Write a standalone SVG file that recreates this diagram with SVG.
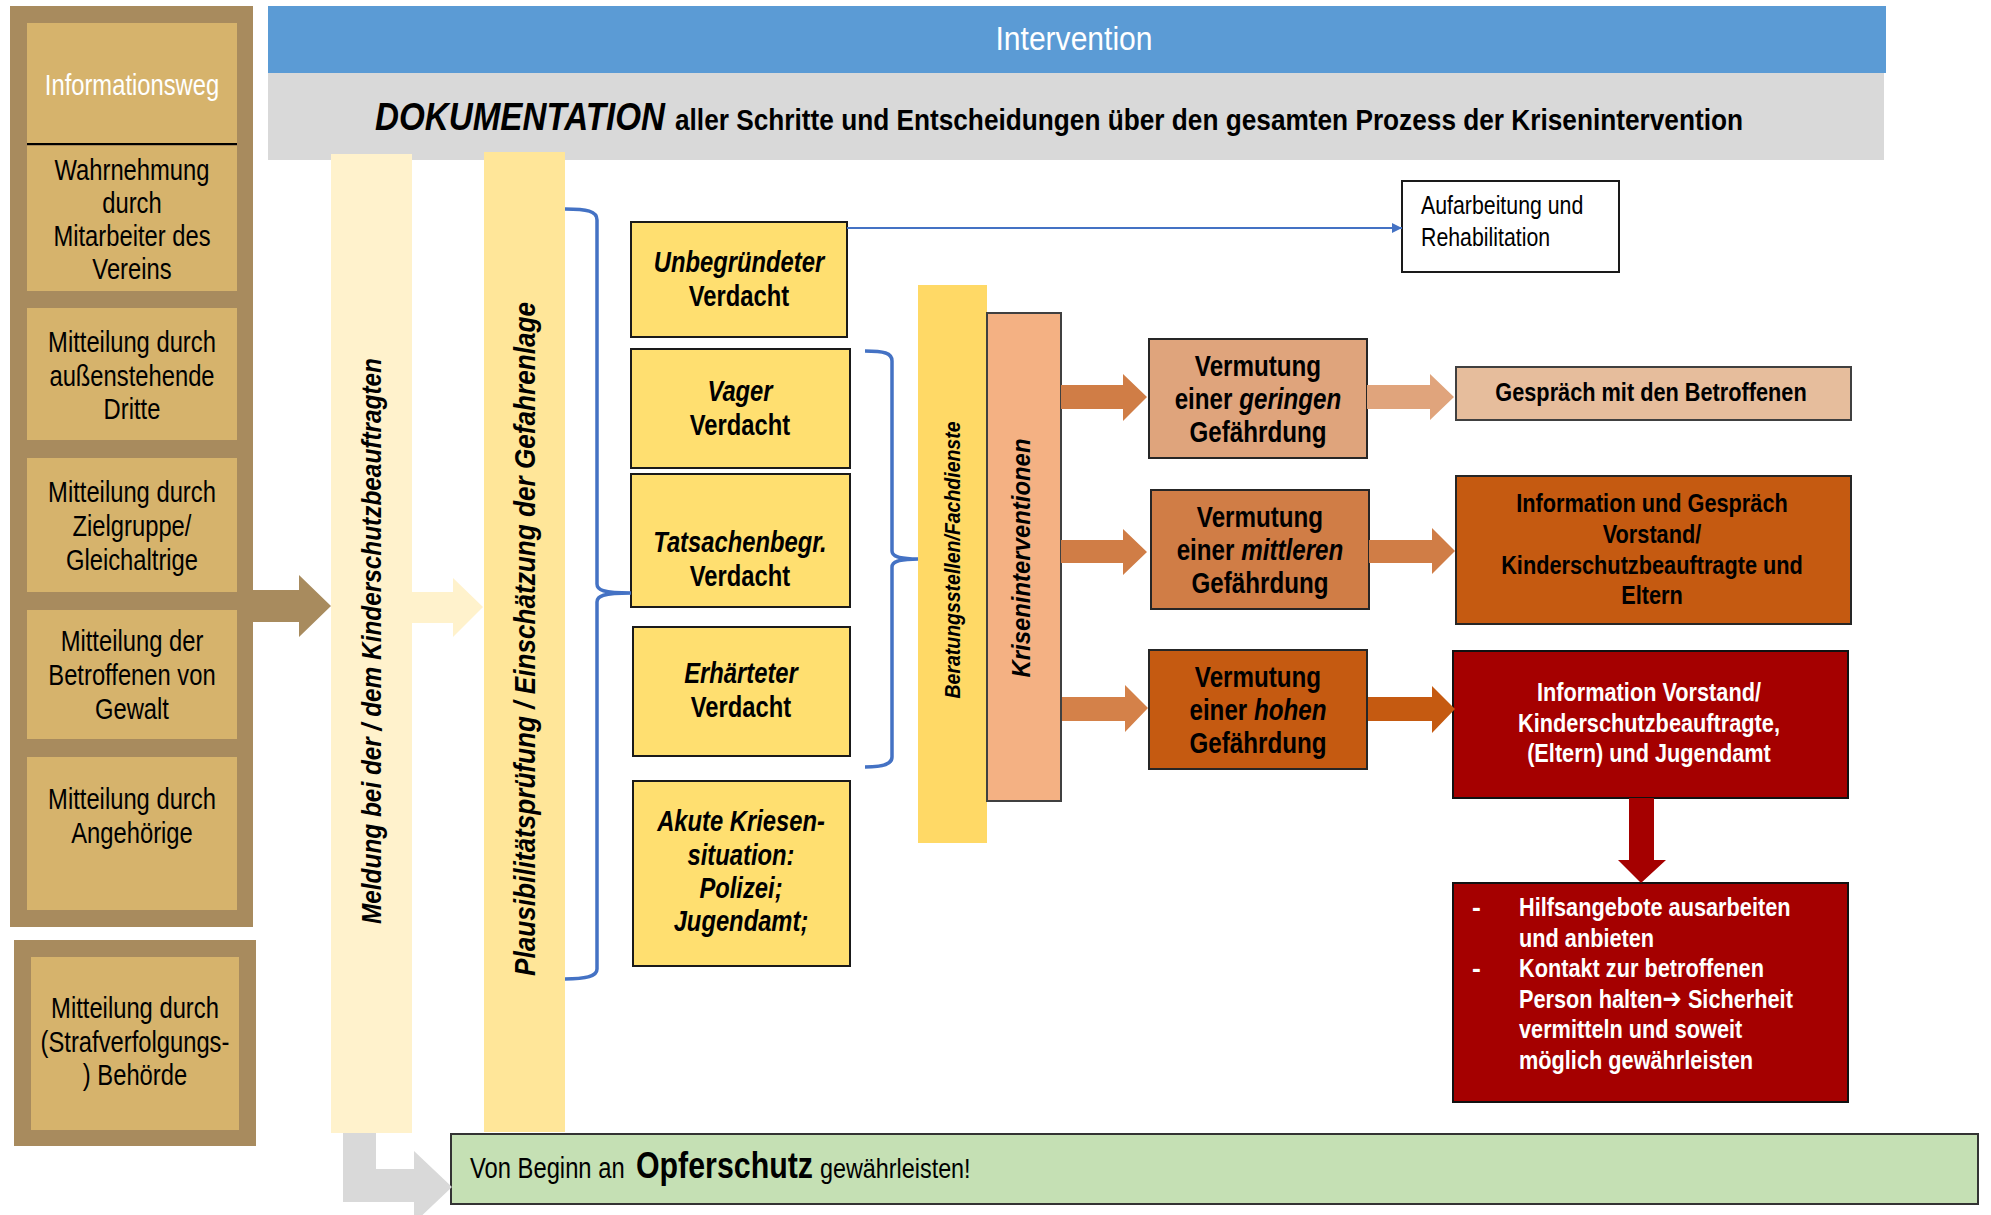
<svg xmlns="http://www.w3.org/2000/svg" width="1991" height="1215" viewBox="0 0 1991 1215">
<defs>
<style>
text{font-family:"Liberation Sans",Arial,sans-serif;fill:#000}
.c{text-anchor:middle}
.r29{font-size:29px}
.b{font-weight:bold}
.i{font-style:italic}
.w{fill:#fff}
.cell{fill:#D6B36C}
.ybox{fill:#FFDF70;stroke:#1a1a1a;stroke-width:2}
.brace{fill:none;stroke:#4472C4;stroke-width:3.5}
</style>
<marker id="tri" markerWidth="10" markerHeight="16" refX="16" refY="8" orient="auto" markerUnits="userSpaceOnUse" viewBox="0 0 16 16">
<path d="M0,0 L16,8 L0,16 Z" fill="#4472C4"/>
</marker>
</defs>
<rect width="1991" height="1215" fill="#fff"/>

<g id="header">
<rect x="268" y="6" width="1618" height="67" fill="#5B9BD5"/>
<rect x="268" y="73" width="1616" height="87" fill="#D9D9D9"/>
<text x="1074" y="50" class="c w" font-size="34" textLength="157" lengthAdjust="spacingAndGlyphs">Intervention</text>
<text x="375" y="130" class="b i" font-size="39" textLength="290" lengthAdjust="spacingAndGlyphs">DOKUMENTATION</text>
<text x="675" y="130" class="b" font-size="29" textLength="1068" lengthAdjust="spacingAndGlyphs">aller Schritte und Entscheidungen über den gesamten Prozess der Krisenintervention</text>
</g>

<g id="informationsweg">
<rect x="10" y="6" width="243" height="921" fill="#A88B5E"/>
<rect x="27" y="23" width="210" height="121" class="cell"/>
<line x1="27" y1="144" x2="237" y2="144" stroke="#000" stroke-width="2"/>
<rect x="27" y="146" width="210" height="145" class="cell"/>
<rect x="27" y="308" width="210" height="132" class="cell"/>
<rect x="27" y="458" width="210" height="134" class="cell"/>
<rect x="27" y="610" width="210" height="129" class="cell"/>
<rect x="27" y="757" width="210" height="153" class="cell"/>
<g transform="translate(132 0) scale(0.82 1) translate(-132 0)">
<text x="132" y="95" class="c r29 w">Informationsweg</text>
<text class="c r29"><tspan x="132" y="180">Wahrnehmung</tspan><tspan x="132" y="213">durch</tspan><tspan x="132" y="246">Mitarbeiter des</tspan><tspan x="132" y="279">Vereins</tspan></text>
<text class="c r29"><tspan x="132" y="352">Mitteilung durch</tspan><tspan x="132" y="386">außenstehende</tspan><tspan x="132" y="419">Dritte</tspan></text>
<text class="c r29"><tspan x="132" y="502">Mitteilung durch</tspan><tspan x="132" y="536">Zielgruppe/</tspan><tspan x="132" y="570">Gleichaltrige</tspan></text>
<text class="c r29"><tspan x="132" y="651">Mitteilung der</tspan><tspan x="132" y="685">Betroffenen von</tspan><tspan x="132" y="719">Gewalt</tspan></text>
<text class="c r29"><tspan x="132" y="809">Mitteilung durch</tspan><tspan x="132" y="843">Angehörige</tspan></text>
</g>
</g>

<g id="behoerde">
<rect x="14" y="940" width="242" height="206" fill="#A88B5E"/>
<rect x="31" y="957" width="208" height="173" class="cell"/>
<text class="c r29" transform="translate(135 0) scale(0.82 1) translate(-135 0)"><tspan x="135" y="1018">Mitteilung durch</tspan><tspan x="135" y="1052">(Strafverfolgungs-</tspan><tspan x="135" y="1085">) Behörde</tspan></text>
</g>

<g id="meldung">
<rect x="331" y="154" width="81" height="979" fill="#FFF2CC"/>
<text x="381" y="641" transform="rotate(-90 381 641)" class="c b i" font-size="27" textLength="566" lengthAdjust="spacingAndGlyphs">Meldung bei der / dem  Kinderschutzbeauftragten</text>
</g>

<g id="plausibilitaet">
<rect x="484" y="152" width="81" height="980" fill="#FFE699"/>
<text x="535" y="639" transform="rotate(-90 535 639)" class="c b i" font-size="29" textLength="674" lengthAdjust="spacingAndGlyphs">Plausibilitätsprüfung / Einschätzung der Gefahrenlage</text>
</g>

<g id="unbegruendet">
<rect x="631" y="222" width="216" height="115" class="ybox"/>
<text class="c b i r29" transform="translate(739 0) scale(0.82 1) translate(-739 0)"><tspan x="739" y="272">Unbegründeter</tspan><tspan x="739" y="306" font-style="normal">Verdacht</tspan></text>
</g>
<g id="vager">
<rect x="631" y="349" width="219" height="119" class="ybox"/>
<text class="c b r29" transform="translate(740 0) scale(0.82 1) translate(-740 0)"><tspan x="740" y="401" font-style="italic">Vager</tspan><tspan x="740" y="435">Verdacht</tspan></text>
</g>
<g id="tatsachen">
<rect x="631" y="474" width="219" height="133" class="ybox"/>
<text class="c b r29" transform="translate(740 0) scale(0.82 1) translate(-740 0)"><tspan x="740" y="552" font-style="italic">Tatsachenbegr.</tspan><tspan x="740" y="586">Verdacht</tspan></text>
</g>
<g id="erhaertet">
<rect x="633" y="627" width="217" height="129" class="ybox"/>
<text class="c b r29" transform="translate(741 0) scale(0.82 1) translate(-741 0)"><tspan x="741" y="683" font-style="italic">Erhärteter</tspan><tspan x="741" y="717">Verdacht</tspan></text>
</g>
<g id="akut">
<rect x="633" y="781" width="217" height="185" class="ybox"/>
<text class="c b i r29" transform="translate(741 0) scale(0.82 1) translate(-741 0)"><tspan x="741" y="831">Akute Kriesen-</tspan><tspan x="741" y="865">situation:</tspan><tspan x="741" y="898">Polizei;</tspan><tspan x="741" y="931">Jugendamt;</tspan></text>
</g>

<g id="beratung">
<rect x="918" y="285" width="69" height="558" fill="#FFD966"/>
<text x="960" y="560" transform="rotate(-90 960 560)" class="c b i" font-size="22" textLength="277" lengthAdjust="spacingAndGlyphs">Beratungsstellen/Fachdienste</text>
</g>
<g id="krisen">
<rect x="987" y="313" width="74" height="488" fill="#F4B183" stroke="#404040" stroke-width="2"/>
<text x="1030" y="558" transform="rotate(-90 1030 558)" class="c b i" font-size="26" textLength="239" lengthAdjust="spacingAndGlyphs">Kriseninterventionen</text>
</g>

<g id="gering">
<rect x="1149" y="339" width="218" height="119" fill="#DFA47C" stroke="#262626" stroke-width="2"/>
<text class="c b" font-size="29.5" transform="translate(1258 0) scale(0.82 1) translate(-1258 0)"><tspan x="1258" y="376">Vermutung</tspan><tspan x="1258" y="409">einer <tspan font-style="italic">geringen</tspan></tspan><tspan x="1258" y="442">Gefährdung</tspan></text>
</g>
<g id="mittel">
<rect x="1151" y="490" width="218" height="119" fill="#D07D46" stroke="#262626" stroke-width="2"/>
<text class="c b" font-size="29.5" transform="translate(1260 0) scale(0.82 1) translate(-1260 0)"><tspan x="1260" y="527">Vermutung</tspan><tspan x="1260" y="560">einer <tspan font-style="italic">mittleren</tspan></tspan><tspan x="1260" y="593">Gefährdung</tspan></text>
</g>
<g id="hoch">
<rect x="1149" y="650" width="218" height="119" fill="#C55A11" stroke="#262626" stroke-width="2"/>
<text class="c b" font-size="29.5" transform="translate(1258 0) scale(0.82 1) translate(-1258 0)"><tspan x="1258" y="687">Vermutung</tspan><tspan x="1258" y="720">einer <tspan font-style="italic">hohen</tspan></tspan><tspan x="1258" y="753">Gefährdung</tspan></text>
</g>

<g id="gespraech">
<rect x="1456" y="367" width="395" height="53" fill="#E6BD9C" stroke="#404040" stroke-width="2"/>
<text x="1651" y="401" class="c b" font-size="26.5" transform="translate(1651 0) scale(0.82 1) translate(-1651 0)">Gespräch mit den Betroffenen</text>
</g>
<g id="info-gespraech">
<rect x="1456" y="476" width="395" height="148" fill="#C55A11" stroke="#262626" stroke-width="2"/>
<text class="c b" font-size="26.5" transform="translate(1652 0) scale(0.82 1) translate(-1652 0)"><tspan x="1652" y="512">Information und Gespräch</tspan><tspan x="1652" y="543">Vorstand/</tspan><tspan x="1652" y="574">Kinderschutzbeauftragte und</tspan><tspan x="1652" y="604">Eltern</tspan></text>
</g>
<g id="info-jugendamt">
<rect x="1453" y="651" width="395" height="147" fill="#A50000" stroke="#111" stroke-width="2"/>
<text class="c b w" font-size="26.5" transform="translate(1649 0) scale(0.82 1) translate(-1649 0)"><tspan x="1649" y="701">Information Vorstand/</tspan><tspan x="1649" y="732">Kinderschutzbeauftragte,</tspan><tspan x="1649" y="762">(Eltern) und Jugendamt</tspan></text>
</g>
<g id="hilfsangebote">
<rect x="1453" y="883" width="395" height="219" fill="#A50000" stroke="#111" stroke-width="2"/>
<text class="b w" font-size="26.5"><tspan x="1472" y="916">-</tspan><tspan x="1472" y="977">-</tspan></text>
<text class="b w" font-size="26.5" transform="translate(1519 0) scale(0.82 1) translate(-1519 0)"><tspan x="1519" y="916">Hilfsangebote ausarbeiten</tspan><tspan x="1519" y="947">und anbieten</tspan><tspan x="1519" y="977">Kontakt zur betroffenen</tspan><tspan x="1519" y="1008">Person halten<tspan font-family="DejaVu Sans" font-size="28">➔</tspan> Sicherheit</tspan><tspan x="1519" y="1038">vermitteln und soweit</tspan><tspan x="1519" y="1069">möglich gewährleisten</tspan></text>
</g>

<g id="aufarbeitung">
<rect x="1402" y="181" width="217" height="91" fill="#fff" stroke="#1a1a1a" stroke-width="2"/>
<text font-size="26" transform="translate(1421 0) scale(0.82 1) translate(-1421 0)"><tspan x="1421" y="214">Aufarbeitung und</tspan><tspan x="1421" y="246">Rehabilitation</tspan></text>
</g>

<g id="opferschutz">
<rect x="451" y="1134" width="1527" height="70" fill="#C5E0B4" stroke="#333" stroke-width="2"/>
<text x="470" y="1178" font-size="29" transform="translate(470 0) scale(0.82 1) translate(-470 0)">Von Beginn an</text>
<text x="636" y="1178" class="b" font-size="37" transform="translate(636 0) scale(0.82 1) translate(-636 0)">Opferschutz</text>
<text x="820" y="1178" font-size="28.5" transform="translate(820 0) scale(0.82 1) translate(-820 0)">gewährleisten!</text>
</g>

<g id="connectors">
<polygon points="253,590 299,590 299,575 331,606 299,637 299,622 253,622" fill="#A88B5E"/>
<polygon points="412,592 453,592 453,578 483,607 453,637 453,623 412,623" fill="#FFF2CC"/>
<polygon points="343,1133 376,1133 376,1169 414,1169 414,1151 452,1187 414,1223 414,1202 343,1202" fill="#D9D9D9"/>
<path class="brace" d="M565,209 C587,209 597,211 597,220 L597,584 C597,590 603,593 631,593 M631,593 C603,593 597,596 597,602 L597,969 C597,976 587,979 565,979"/>
<path class="brace" d="M865,351 C884,351 892,353 892,361 L892,551 C892,556 898,559 918,559 M918,559 C898,559 892,562 892,567 L892,757 C892,764 884,767 865,767"/>
<line x1="847" y1="228" x2="1402" y2="228" stroke="#4472C4" stroke-width="2" marker-end="url(#tri)"/>
<polygon points="1061,385 1123,385 1123,374 1147,397 1123,421 1123,409 1061,409" fill="#D07D46"/>
<polygon points="1367,385 1430,385 1430,374 1454,397 1430,420 1430,409 1367,409" fill="#E0A47C"/>
<polygon points="1061,540 1123,540 1123,529 1147,552 1123,575 1123,563 1061,563" fill="#D07D46"/>
<polygon points="1369,540 1432,540 1432,528 1455,551 1432,574 1432,563 1369,563" fill="#D07D46"/>
<polygon points="1062,697 1125,697 1125,685 1148,708 1125,732 1125,721 1062,721" fill="#D48149"/>
<polygon points="1368,697 1432,697 1432,686 1455,709 1432,733 1432,721 1368,721" fill="#C55A11"/>
<polygon points="1629,798 1654,798 1654,860 1666,860 1641,883 1618,860 1629,860" fill="#A50000"/>
</g>
</svg>
